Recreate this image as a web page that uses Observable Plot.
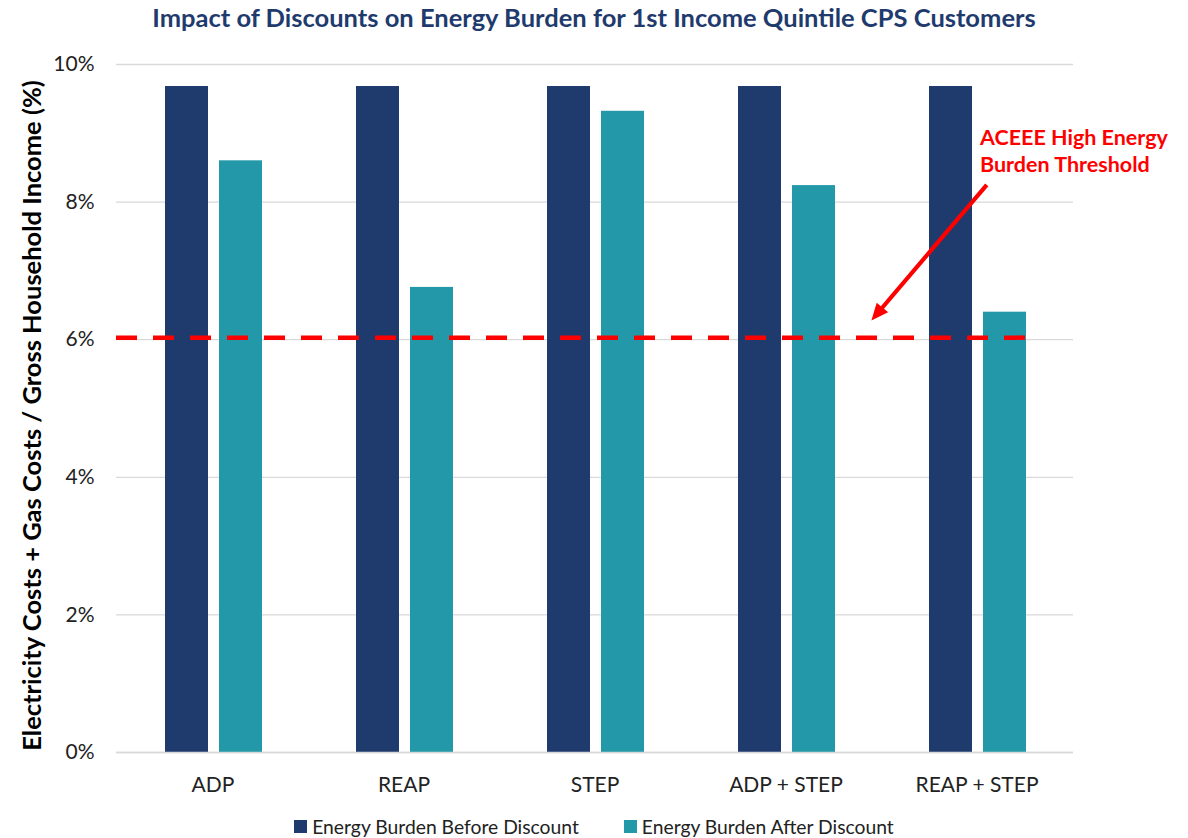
<!DOCTYPE html>
<html>
<head>
<meta charset="utf-8">
<script src="https://cdn.jsdelivr.net/npm/d3@7"></script>
<script src="https://cdn.jsdelivr.net/npm/@observablehq/plot@0.6"></script>
<style>
  html, body { margin: 0; padding: 0; background: #fff; }
  body { width: 1188px; height: 838px; overflow: hidden; font-family: Lato, "Open Sans", sans-serif; }
  #title { height: 34px; line-height: 34px; text-align: center; font-size: 25.5px; font-weight: bold; color: #1F3B6E; }
  #legend { height: 24px; display: flex; justify-content: center; align-items: center; gap: 45px; font-size: 19.3px; color: #222; }
  #legend .item { display: flex; align-items: center; gap: 5px; }
  #legend .sw { width: 13px; height: 13px; display: inline-block; }
</style>
</head>
<body>
<div id="title">Impact of Discounts on Energy Burden for 1st Income Quintile CPS Customers</div>
<div id="chart"></div>
<div id="legend"></div>
<script>
const categories = ["ADP", "REAP", "STEP", "ADP + STEP", "REAP + STEP"];
const seriesNames = ["Energy Burden Before Discount", "Energy Burden After Discount"];
const seriesColors = ["#1F3B6E", "#2398A9"];
const beforeValues = [9.68, 9.68, 9.68, 9.68, 9.68];
const afterValues = [8.60, 6.76, 9.32, 8.24, 6.40];
const yTicks = [0, 2, 4, 6, 8, 10];
const threshold = 6.03;
const yLabel = "Electricity Costs + Gas Costs / Gross Household Income (%)";
const annotationText = "ACEEE High Energy\nBurden Threshold";
const annotationAt = {x: "REAP + STEP", y: 8.76};
const arrowTip = {x: "ADP + STEP", y: 6.28};

const rows = [];
categories.forEach((c, i) => {
  rows.push({category: c, series: seriesNames[0], value: beforeValues[i]});
  rows.push({category: c, series: seriesNames[1], value: afterValues[i]});
});

// filled arrow: shaft + triangular head, drawn pointing "up" then rotated by the vector mark
const arrowShape = {
  draw(context, l) {
    const h = 17, hw = 7.5, sw = 2.1;
    context.moveTo(-sw, 0);
    context.lineTo(sw, 0);
    context.lineTo(sw, -(l - h));
    context.lineTo(hw, -(l - h));
    context.lineTo(0, -l);
    context.lineTo(-hw, -(l - h));
    context.lineTo(-sw, -(l - h));
    context.closePath();
  }
};

const chart = Plot.plot({
  width: 1188,
  height: 780,
  marginLeft: 116,
  marginRight: 115,
  marginTop: 30,
  marginBottom: 62,
  style: {fontFamily: "Lato, 'Open Sans', sans-serif", background: "#fff"},
  x: {domain: categories, padding: 0, label: null},
  y: {domain: [0, 10], label: null},
  marks: [
    Plot.gridY(yTicks, {stroke: "#d9d9d9", strokeOpacity: 1, strokeWidth: 1.3}),
    Plot.barY(rows.filter(d => d.series === seriesNames[0]), {x: "category", y: "value", fill: seriesColors[0], insetLeft: 48, insetRight: 100}),
    Plot.barY(rows.filter(d => d.series === seriesNames[1]), {x: "category", y: "value", fill: seriesColors[1], insetLeft: 102, insetRight: 46}),
    Plot.ruleY([0], {stroke: "#d9d9d9", strokeWidth: 1.5}),
    Plot.ruleY([threshold], {stroke: "#FF0000", strokeWidth: 4.5, strokeDasharray: "21,16", insetRight: 36}),
    Plot.axisY({ticks: yTicks, tickSize: 0, tickPadding: 22, tickFormat: d => d + "%", fontSize: 21, color: "#222", label: null}),
    Plot.axisX({tickSize: 0, tickPadding: 25, fontSize: 21, color: "#222", label: null}),
    Plot.text([yLabel], {text: d => d, frameAnchor: "left", textAnchor: "middle", rotate: -90, dx: -84, dy: 7, fontSize: 25.5, fontWeight: "bold", fill: "#000"}),
    Plot.vector([arrowTip], {x: "x", y: "y", dx: 85.4, anchor: "end", length: 178, rotate: 220.4, shape: arrowShape, fill: "#FF0000", stroke: "none"}),
    Plot.text([annotationText], {x: () => annotationAt.x, y: () => annotationAt.y, text: d => d, textAnchor: "start", dx: 3, fontSize: 21.5, fontWeight: "bold", fill: "#FF0000", lineHeight: 1.26})
  ]
});
document.getElementById("chart").appendChild(chart);

const legend = document.getElementById("legend");
seriesNames.forEach((name, i) => {
  const item = document.createElement("span");
  item.className = "item";
  const sw = document.createElement("span");
  sw.className = "sw";
  sw.style.background = seriesColors[i];
  const label = document.createElement("span");
  label.textContent = name;
  item.appendChild(sw);
  item.appendChild(label);
  legend.appendChild(item);
});
</script>
</body>
</html>
